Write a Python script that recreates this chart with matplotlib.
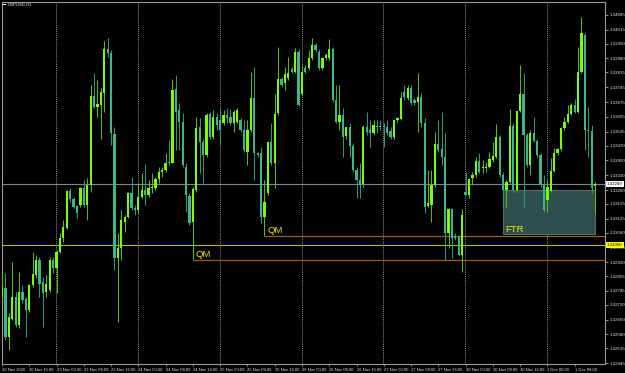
import matplotlib
matplotlib.use('Agg')
import matplotlib.pyplot as plt
from matplotlib.patches import Rectangle
import numpy as np

plt.rcParams['font.family'] = ['Liberation Sans', 'DejaVu Sans']

symbol = 'GBPUSD,H1'
sessions = [('20 Nov', 8, 23), ('23 Nov', 0, 23), ('24 Nov', 0, 23), ('25 Nov', 0, 23),
            ('26 Nov', 0, 23), ('27 Nov', 0, 23), ('30 Nov', 0, 23), ('1 Dec', 0, 14)]

opens = [
    1.32758, 1.32797, 1.32570, 1.32655, 1.32758, 1.32624, 1.32781, 1.32745, 1.32694, 1.32812,
    1.32860, 1.32931, 1.32828, 1.32781, 1.32789, 1.32931, 1.32891, 1.32970, 1.33033, 1.33080,
    1.33256, 1.33218, 1.33185, 1.33190, 1.33268, 1.33190, 1.33284, 1.33703, 1.33650, 1.33661,
    1.33719, 1.33924, 1.33904, 1.33524, 1.32938, 1.32986, 1.33111, 1.33135, 1.33248, 1.33174,
    1.33166, 1.33229, 1.33260, 1.33237, 1.33268, 1.33268, 1.33311, 1.33347, 1.33354, 1.33394,
    1.33389, 1.33734, 1.33637, 1.33582, 1.33370, 1.33232, 1.33111, 1.33260, 1.33555, 1.33488,
    1.33425, 1.33617, 1.33511, 1.33606, 1.33590, 1.33574, 1.33614, 1.33606, 1.33574, 1.33582,
    1.33590, 1.33543, 1.33441, 1.33543, 1.33696, 1.33433, 1.33433, 1.33135, 1.33245, 1.33488,
    1.33386, 1.33621, 1.33782, 1.33763, 1.33786, 1.33829, 1.33818, 1.33912, 1.33712, 1.33833,
    1.33833, 1.33880, 1.33943, 1.33912, 1.33833, 1.33880, 1.33880, 1.33923, 1.33684, 1.33582,
    1.33614, 1.33515, 1.33555, 1.33467, 1.33354, 1.33307, 1.33289, 1.33555, 1.33543, 1.33527,
    1.33562, 1.33562, 1.33562, 1.33555, 1.33540, 1.33511, 1.33590, 1.33593, 1.33723, 1.33692,
    1.33739, 1.33684, 1.33676, 1.33700, 1.33577, 1.33186, 1.33190, 1.33284, 1.33477, 1.33452,
    1.33414, 1.33059, 1.33169, 1.33044, 1.33037, 1.32954, 1.33252, 1.33237, 1.33315, 1.33331,
    1.33397, 1.33362, 1.33362, 1.33370, 1.33401, 1.33417, 1.33508, 1.33331, 1.33260, 1.33300,
    1.33562, 1.33260, 1.33634, 1.33712, 1.33519, 1.33378, 1.33530, 1.33493, 1.33425, 1.33284,
    1.33213, 1.33257, 1.33351, 1.33433, 1.33452, 1.33551, 1.33582, 1.33618, 1.33661, 1.33629,
    1.33818, 1.33990, 1.33543, 1.33540, 1.33281]

highs = [
    1.32868, 1.32868, 1.32679, 1.32923, 1.32781, 1.32876, 1.32812, 1.32758, 1.32820, 1.32970,
    1.32954, 1.32946, 1.32852, 1.32860, 1.32946, 1.32946, 1.32978, 1.33056, 1.33119, 1.33260,
    1.33268, 1.33229, 1.33190, 1.33276, 1.33307, 1.33315, 1.33755, 1.33810, 1.33778, 1.33739,
    1.33964, 1.33975, 1.33920, 1.33559, 1.33056, 1.33166, 1.33143, 1.33252, 1.33323, 1.33190,
    1.33292, 1.33339, 1.33383, 1.33307, 1.33339, 1.33323, 1.33370, 1.33370, 1.33436, 1.33496,
    1.33782, 1.33802, 1.33669, 1.33621, 1.33386, 1.33245, 1.33276, 1.33606, 1.33598, 1.33503,
    1.33621, 1.33629, 1.33637, 1.33621, 1.33645, 1.33637, 1.33645, 1.33640, 1.33637, 1.33645,
    1.33598, 1.33590, 1.33590, 1.33818, 1.33841, 1.33441, 1.33464, 1.33307, 1.33488, 1.33574,
    1.33712, 1.33935, 1.33794, 1.33841, 1.33888, 1.33841, 1.33928, 1.33923, 1.33844, 1.33849,
    1.33920, 1.33975, 1.33951, 1.33923, 1.33888, 1.33904, 1.33970, 1.33935, 1.33755, 1.33755,
    1.33645, 1.33559, 1.33574, 1.33480, 1.33370, 1.33386, 1.33566, 1.33629, 1.33590, 1.33590,
    1.33590, 1.33590, 1.33574, 1.33590, 1.33559, 1.33590, 1.33606, 1.33723, 1.33755, 1.33755,
    1.33755, 1.33692, 1.33810, 1.33716, 1.33598, 1.33354, 1.33354, 1.33535, 1.33590, 1.33629,
    1.33527, 1.33174, 1.33174, 1.33056, 1.33048, 1.33169, 1.33347, 1.33315, 1.33347, 1.33417,
    1.33433, 1.33401, 1.33394, 1.33441, 1.33488, 1.33571, 1.33519, 1.33347, 1.33307, 1.33640,
    1.33574, 1.33634, 1.33849, 1.33813, 1.33527, 1.33543, 1.33606, 1.33503, 1.33433, 1.33331,
    1.33307, 1.33409, 1.33456, 1.33456, 1.33559, 1.33606, 1.33661, 1.33669, 1.33687, 1.33935,
    1.34074, 1.33998, 1.33650, 1.33566, 1.33300]

lows = [
    1.32742, 1.32554, 1.32507, 1.32648, 1.32617, 1.32609, 1.32726, 1.32570, 1.32687, 1.32805,
    1.32844, 1.32758, 1.32617, 1.32758, 1.32781, 1.32868, 1.32774, 1.32962, 1.33017, 1.33075,
    1.33205, 1.33174, 1.33127, 1.33182, 1.33182, 1.33119, 1.33252, 1.33645, 1.33606, 1.33503,
    1.33629, 1.33888, 1.33472, 1.32883, 1.32640, 1.32931, 1.33064, 1.33127, 1.33166, 1.33143,
    1.33150, 1.33221, 1.33190, 1.33229, 1.33245, 1.33260, 1.33292, 1.33323, 1.33347, 1.33378,
    1.33386, 1.33449, 1.33449, 1.33370, 1.33158, 1.33095, 1.32931, 1.33252, 1.33339, 1.33292,
    1.33417, 1.33503, 1.33503, 1.33543, 1.33472, 1.33566, 1.33574, 1.33566, 1.33535, 1.33574,
    1.33535, 1.33441, 1.33378, 1.33535, 1.33307, 1.33417, 1.33103, 1.33044, 1.33237, 1.33378,
    1.33268, 1.33614, 1.33747, 1.33731, 1.33778, 1.33810, 1.33810, 1.33656, 1.33708, 1.33810,
    1.33826, 1.33873, 1.33912, 1.33826, 1.33826, 1.33873, 1.33873, 1.33676, 1.33574, 1.33543,
    1.33417, 1.33503, 1.33417, 1.33347, 1.33221, 1.33221, 1.33276, 1.33519, 1.33464, 1.33519,
    1.33527, 1.33543, 1.33464, 1.33519, 1.33503, 1.33503, 1.33582, 1.33590, 1.33684, 1.33684,
    1.33661, 1.33661, 1.33535, 1.33559, 1.33153, 1.33182, 1.33111, 1.33276, 1.33441, 1.33378,
    1.32931, 1.32986, 1.32938, 1.33025, 1.32954, 1.32876, 1.33237, 1.33221, 1.33284, 1.33323,
    1.33339, 1.33339, 1.33347, 1.33362, 1.33394, 1.33409, 1.33323, 1.33182, 1.33179, 1.33292,
    1.33252, 1.33252, 1.33629, 1.33174, 1.33370, 1.33331, 1.33488, 1.33417, 1.33276, 1.33158,
    1.33158, 1.33252, 1.33347, 1.33425, 1.33446, 1.33543, 1.33574, 1.33614, 1.33625, 1.33625,
    1.33810, 1.33449, 1.33417, 1.33245, 1.33153]

closes = [
    1.32805, 1.32570, 1.32663, 1.32758, 1.32624, 1.32781, 1.32742, 1.32694, 1.32812, 1.32864,
    1.32931, 1.32820, 1.32774, 1.32820, 1.32931, 1.32891, 1.32970, 1.33033, 1.33088, 1.33256,
    1.33218, 1.33182, 1.33150, 1.33268, 1.33190, 1.33284, 1.33703, 1.33653, 1.33665, 1.33723,
    1.33923, 1.33904, 1.33527, 1.32938, 1.32986, 1.33119, 1.33135, 1.33248, 1.33174, 1.33166,
    1.33229, 1.33260, 1.33237, 1.33268, 1.33276, 1.33311, 1.33347, 1.33354, 1.33386, 1.33386,
    1.33731, 1.33629, 1.33582, 1.33378, 1.33237, 1.33103, 1.33263, 1.33551, 1.33488, 1.33425,
    1.33614, 1.33511, 1.33606, 1.33566, 1.33543, 1.33614, 1.33598, 1.33574, 1.33629, 1.33637,
    1.33543, 1.33449, 1.33543, 1.33696, 1.33433, 1.33425, 1.33135, 1.33205, 1.33488, 1.33386,
    1.33618, 1.33782, 1.33755, 1.33807, 1.33810, 1.33818, 1.33912, 1.33661, 1.33818, 1.33818,
    1.33880, 1.33943, 1.33920, 1.33833, 1.33880, 1.33896, 1.33923, 1.33684, 1.33582, 1.33614,
    1.33511, 1.33555, 1.33467, 1.33354, 1.33307, 1.33284, 1.33555, 1.33535, 1.33527, 1.33566,
    1.33555, 1.33559, 1.33555, 1.33530, 1.33511, 1.33590, 1.33598, 1.33696, 1.33700, 1.33739,
    1.33669, 1.33669, 1.33700, 1.33577, 1.33182, 1.33198, 1.33284, 1.33477, 1.33449, 1.33414,
    1.33059, 1.33169, 1.33033, 1.33033, 1.32954, 1.33143, 1.33237, 1.33311, 1.33331, 1.33397,
    1.33347, 1.33370, 1.33370, 1.33405, 1.33420, 1.33508, 1.33331, 1.33260, 1.33300, 1.33562,
    1.33260, 1.33634, 1.33712, 1.33519, 1.33378, 1.33530, 1.33493, 1.33425, 1.33284, 1.33166,
    1.33276, 1.33351, 1.33433, 1.33452, 1.33551, 1.33582, 1.33618, 1.33661, 1.33629, 1.33818,
    1.34001, 1.33543, 1.33540, 1.33268, 1.33289]

ytick_labels = ['1.34085', '1.34015', '1.33950', '1.33880', '1.33815', '1.33745', '1.33675',
                '1.33605', '1.33535', '1.33470', '1.33400', '1.33330', '1.33260', '1.33195',
                '1.33125', '1.33060', '1.32990', '1.32920', '1.32855', '1.32785', '1.32720',
                '1.32650', '1.32580', '1.32515', '1.32445']

bid_price = 1.33289
round_level = 1.33000
qm_starts = [56, 77]
qm_levels = [1.32931, 1.33044]
qm_texts = ['QM', 'QM']
ftr_start, ftr_end = 147, 174
ftr_top, ftr_bottom = 1.33261, 1.33053

# ---------------------------------------------------------------- figure
times = [(d, hh) for d, h0, h1 in sessions for hh in range(h0, h1 + 1)]
n = len(times)
x = np.arange(n)
o, h, l, c = map(np.array, (opens, highs, lows, closes))

W, H = 625, 373
fig = plt.figure(figsize=(W / 100, H / 100), dpi=100, facecolor='black')
L, R, T, B = 2, 605, 2, 364
ax = fig.add_axes([L / W, 1 - B / H, (R - L) / W, (B - T) / H], facecolor='black')
ax.set_xlim(0.09, 176.9)
ax.set_ylim(1.32441, 1.34146)

bull, bear = '#7cfc00', '#3cb68c'
bull_wick, bear_wick = '#5fb808', '#2f9872'
up = c >= o
ax.vlines(x[up], l[up], h[up], color=bull_wick, lw=0.75, zorder=3)
ax.vlines(x[~up], l[~up], h[~up], color=bear_wick, lw=0.75, zorder=3)
body = np.maximum(np.abs(c - o), 0.00004)
bot = np.minimum(o, c)
ax.bar(x[up], body[up], bottom=bot[up], width=0.66, color=bull, linewidth=0, zorder=4)
ax.bar(x[~up], body[~up], bottom=bot[~up], width=0.66, color=bear, linewidth=0, zorder=4)

# day separators
for i, (d, hh) in enumerate(times):
    if hh == 0:
        ax.axvline(i - 0.1, color='#8c8c8c', lw=0.7, ls=(0, (1, 1)), zorder=1)

# levels
ax.axhline(bid_price, color='#7a8696', lw=0.8, zorder=2)
ax.axhline(round_level, color='#c0b614', lw=0.8, zorder=2)
for s, lvl, t in zip(qm_starts, qm_levels, qm_texts):
    ax.hlines(lvl, s, 176.9, color='#a35c00', lw=0.9, zorder=2)
    ax.text(s + 0.9, lvl + 0.00014, t, color='#f2e400', fontsize=6.8, ha='left', va='baseline', zorder=6)

ax.add_patch(Rectangle((ftr_start, ftr_bottom), ftr_end - ftr_start, ftr_top - ftr_bottom,
                       facecolor='#2f4f4f', edgecolor='#4c7272', lw=0.8, zorder=1.5))
ax.text(ftr_start + 0.6, ftr_bottom + 0.0001, 'FTR', color='#f2e400', fontsize=6.8,
        ha='left', va='baseline', zorder=6)

# axes styling
for sp in ax.spines.values():
    sp.set_color('#9a9a9a')
    sp.set_linewidth(0.8)
ax.yaxis.tick_right()
ax.set_yticks([float(v) for v in ytick_labels])
ax.set_yticklabels(ytick_labels)
ax.tick_params(axis='y', direction='out', length=2, width=0.6, color='#a0a0a0',
               labelcolor='#e0e0e0', labelsize=3.2, pad=1)

xt = list(range(0, n, 8))
xl = []
for i in xt:
    d, hh = times[i]
    xl.append('20 Nov 2020' if i == 0 else f'{d} {hh:02d}:00')
ax.set_xticks(xt)
ax.set_xticklabels(xl, ha='left')
ax.tick_params(axis='x', direction='out', length=1.5, width=0.6, color='#a0a0a0',
               labelcolor='#e0e0e0', labelsize=3.0, pad=1.5)

ytr = ax.get_yaxis_transform()
ax.text(1.003, bid_price, f'{bid_price:.5f}', transform=ytr, fontsize=3.2, color='black',
        ha='left', va='center', zorder=10, clip_on=False,
        bbox=dict(boxstyle='square,pad=0.25', fc='white', ec='none'))
ax.text(1.003, round_level, f'{round_level:.5f}', transform=ytr, fontsize=3.2, color='black',
        ha='left', va='center', zorder=10, clip_on=False,
        bbox=dict(boxstyle='square,pad=0.25', fc='#ffff00', ec='none'))

# header
fig.patches.append(Rectangle((3 / W, 1 - 5 / H), 3 / W, 1.3 / H, transform=fig.transFigure,
                             facecolor='white', edgecolor='none'))
fig.text(8 / W, 1 - 4.6 / H, symbol, color='white', fontsize=3.0, ha='left', va='center')

fig.savefig('out.png', dpi=100, facecolor='black')
